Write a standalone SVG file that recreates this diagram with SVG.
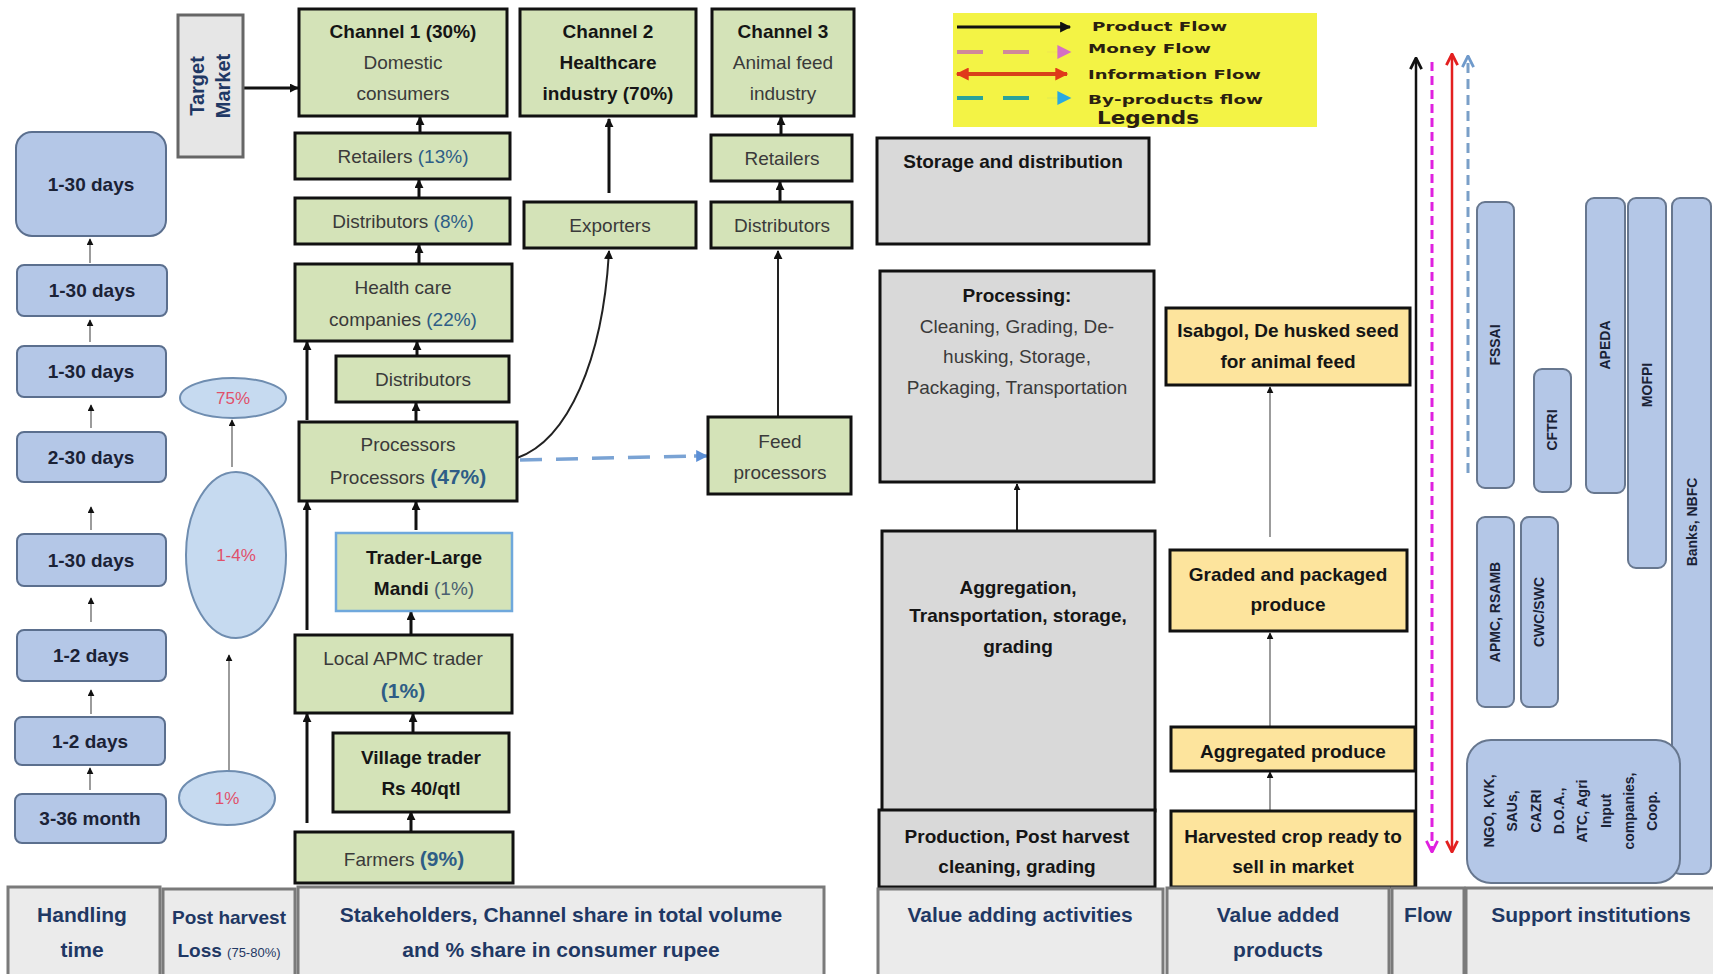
<svg xmlns="http://www.w3.org/2000/svg" width="1713" height="974" viewBox="0 0 1713 974">
<style>
text{font-family:"Liberation Sans",Arial,sans-serif;text-anchor:middle}
.t{font-size:19px;fill:#3a3a3a}
.b{font-weight:bold;fill:#151515}
.pc{fill:#2e5d86}
.g{fill:#d4e3b8;stroke:#111;stroke-width:3}
.gt{fill:#d4e3b8;stroke:#6fa8dc;stroke-width:2.5}
.gr{fill:#d9d9d9;stroke:#111;stroke-width:3}
.y{fill:#fde49d;stroke:#111;stroke-width:3}
.tb{fill:#b4c7e7;stroke:#5b6f8e;stroke-width:2}
.tt{font-size:19px;font-weight:bold;fill:#1b2236}
.el{fill:#c6daf0;stroke:#6f8db0;stroke-width:2}
.elt{font-size:17px;fill:#e0506a}
.hd{fill:#ebebeb;stroke:#7a7a7a;stroke-width:3}
.ht{font-size:21px;font-weight:bold;fill:#1f3864}
.si{fill:#b4c7e7;stroke:#67778f;stroke-width:2}
.sit{font-size:14px;font-weight:bold;fill:#1a2236}
.lg{font-family:"DejaVu Sans",sans-serif;font-size:13px;font-weight:bold;fill:#2a2010;text-anchor:start}
.c3{fill:none;stroke:#111;stroke-width:3}
.c2{fill:none;stroke:#222;stroke-width:2}
.c1{fill:none;stroke:#666;stroke-width:1.3}
</style>
<defs>
<marker id="ah" viewBox="0 0 10 10" refX="9" refY="5" markerWidth="9" markerHeight="9" markerUnits="userSpaceOnUse" orient="auto"><path d="M0,0 L10,5 L0,10 z" fill="#111"/></marker>
<marker id="ahs" viewBox="0 0 10 10" refX="9" refY="5" markerWidth="7" markerHeight="7" markerUnits="userSpaceOnUse" orient="auto"><path d="M0,0 L10,5 L0,10 z" fill="#111"/></marker>
<marker id="ahb" viewBox="0 0 10 10" refX="9" refY="5" markerWidth="12" markerHeight="12" markerUnits="userSpaceOnUse" orient="auto"><path d="M0,0 L10,5 L0,10 z" fill="#5b8fd6"/></marker>
<marker id="lk" viewBox="0 0 10 10" refX="9" refY="5" markerWidth="13" markerHeight="11" markerUnits="userSpaceOnUse" orient="auto"><path d="M0,0 L10,5 L0,10 z" fill="#111"/></marker>
<marker id="lp" viewBox="0 0 10 10" refX="9" refY="5" markerWidth="24" markerHeight="14" markerUnits="userSpaceOnUse" orient="auto"><path d="M0,0 L10,5 L0,10 z" fill="#d46fc4"/></marker>
<marker id="lr" viewBox="0 0 10 10" refX="9" refY="5" markerWidth="18" markerHeight="13" markerUnits="userSpaceOnUse" orient="auto-start-reverse"><path d="M0,0 L10,5 L0,10 z" fill="#e0381a"/></marker>
<marker id="lc" viewBox="0 0 10 10" refX="9" refY="5" markerWidth="24" markerHeight="14" markerUnits="userSpaceOnUse" orient="auto"><path d="M0,0 L10,5 L0,10 z" fill="#2aa8e0"/></marker>
<marker id="vk" viewBox="0 0 10 10" refX="9" refY="5" markerWidth="14" markerHeight="14" markerUnits="userSpaceOnUse" orient="auto"><path d="M1,1 L9,5 L1,9" fill="none" stroke="#111" stroke-width="2"/></marker>
<marker id="vm" viewBox="0 0 10 10" refX="9" refY="5" markerWidth="14" markerHeight="14" markerUnits="userSpaceOnUse" orient="auto"><path d="M1,1 L9,5 L1,9" fill="none" stroke="#e020e0" stroke-width="2"/></marker>
<marker id="vr" viewBox="0 0 10 10" refX="9" refY="5" markerWidth="14" markerHeight="14" markerUnits="userSpaceOnUse" orient="auto-start-reverse"><path d="M1,1 L9,5 L1,9" fill="none" stroke="#e32020" stroke-width="2"/></marker>
<marker id="vb" viewBox="0 0 10 10" refX="9" refY="5" markerWidth="14" markerHeight="14" markerUnits="userSpaceOnUse" orient="auto"><path d="M1,1 L9,5 L1,9" fill="none" stroke="#6f9acb" stroke-width="2"/></marker>
</defs>
<rect width="1713" height="974" fill="#ffffff"/>

<g id="legend">
<rect x="953" y="13" width="364" height="114" fill="#f3f345"/>
<line x1="957" y1="27" x2="1070" y2="27" stroke="#111" stroke-width="3" marker-end="url(#lk)"/>
<line x1="957" y1="52" x2="1047" y2="52" stroke="#d0889a" stroke-width="4" stroke-dasharray="26 20"/>
<line x1="1047" y1="52" x2="1070" y2="52" stroke="#d46fc4" stroke-width="0.1" marker-end="url(#lp)"/>
<line x1="957" y1="74" x2="1067" y2="74" stroke="#d8401a" stroke-width="4" marker-start="url(#lr)" marker-end="url(#lr)"/>
<line x1="957" y1="98" x2="1047" y2="98" stroke="#2aa39a" stroke-width="4" stroke-dasharray="26 20"/>
<line x1="1047" y1="98" x2="1070" y2="98" stroke="#2aa8e0" stroke-width="0.1" marker-end="url(#lc)"/>
<text class="lg" x="1092" y="31" textLength="135" lengthAdjust="spacingAndGlyphs">Product Flow</text>
<text class="lg" x="1088" y="53" textLength="123" lengthAdjust="spacingAndGlyphs">Money Flow</text>
<text class="lg" x="1088" y="79" textLength="173" lengthAdjust="spacingAndGlyphs">Information Flow</text>
<text class="lg" x="1088" y="104" textLength="175" lengthAdjust="spacingAndGlyphs">By-products flow</text>
<text class="lg" x="1097" y="124" style="font-size:17px" textLength="102" lengthAdjust="spacingAndGlyphs">Legends</text>
</g>

<g id="connectors">
<line class="c3" x1="244" y1="88" x2="298" y2="88" stroke="#444" marker-end="url(#ah)"/>
<line class="c3" x1="420" y1="133" x2="420" y2="117" marker-end="url(#ah)"/>
<line class="c3" x1="419" y1="198" x2="419" y2="180" marker-end="url(#ah)"/>
<line class="c3" x1="419" y1="264" x2="419" y2="245" marker-end="url(#ah)"/>
<line class="c3" x1="417" y1="356" x2="417" y2="342" marker-end="url(#ah)"/>
<line class="c3" x1="416" y1="422" x2="416" y2="403" marker-end="url(#ah)"/>
<line class="c3" x1="416" y1="530" x2="416" y2="502" marker-end="url(#ah)"/>
<line class="c3" x1="411" y1="634" x2="411" y2="612" marker-end="url(#ah)"/>
<line class="c3" x1="413" y1="733" x2="413" y2="714" marker-end="url(#ah)"/>
<line class="c3" x1="411" y1="832" x2="411" y2="812" marker-end="url(#ah)"/>
<line class="c3" x1="307" y1="823" x2="307" y2="714" marker-end="url(#ah)"/>
<line class="c3" x1="307" y1="630" x2="307" y2="502" marker-end="url(#ah)"/>
<line class="c3" x1="307" y1="420" x2="307" y2="342" marker-end="url(#ah)"/>
<line class="c3" x1="609" y1="193" x2="609" y2="119" marker-end="url(#ah)"/>
<line class="c3" x1="781" y1="135" x2="781" y2="117" marker-end="url(#ah)"/>
<line class="c3" x1="780" y1="202" x2="780" y2="182" marker-end="url(#ah)"/>
<line class="c2" x1="778" y1="417" x2="778" y2="251" stroke-width="2.5" marker-end="url(#ah)"/>
<path class="c2" d="M517,458 C568,440 603,360 609,251" stroke-width="2.5" marker-end="url(#ah)"/>
<line x1="520" y1="460" x2="694" y2="456" stroke="#7aa3d4" stroke-width="3.5" stroke-dasharray="22 14"/>
<line x1="694" y1="456" x2="707" y2="456" stroke="#7aa3d4" stroke-width="3.5" marker-end="url(#ahb)"/>
<line class="c1" x1="90" y1="263" x2="90" y2="239" marker-end="url(#ahs)"/>
<line class="c1" x1="90" y1="342" x2="90" y2="320" marker-end="url(#ahs)"/>
<line class="c1" x1="91" y1="428" x2="91" y2="405" marker-end="url(#ahs)"/>
<line class="c1" x1="91" y1="530" x2="91" y2="507" marker-end="url(#ahs)"/>
<line class="c1" x1="91" y1="622" x2="91" y2="598" marker-end="url(#ahs)"/>
<line class="c1" x1="91" y1="714" x2="91" y2="690" marker-end="url(#ahs)"/>
<line class="c1" x1="90" y1="790" x2="90" y2="768" marker-end="url(#ahs)"/>
<line class="c1" x1="232" y1="467" x2="232" y2="420" marker-end="url(#ahs)"/>
<line class="c1" x1="229" y1="771" x2="229" y2="655" marker-end="url(#ahs)"/>
<line class="c2" x1="1017" y1="531" x2="1017" y2="484" marker-end="url(#ahs)"/>
<line class="c2" x1="1017" y1="810" x2="1017" y2="794" marker-end="url(#ahs)"/>
<line class="c1" x1="1270" y1="811" x2="1270" y2="772" stroke="#444" stroke-width="1.6" marker-end="url(#ahs)"/>
<line class="c1" x1="1270" y1="727" x2="1270" y2="633" stroke="#444" stroke-width="1.6" marker-end="url(#ahs)"/>
<line class="c1" x1="1270" y1="537" x2="1270" y2="387" stroke="#444" stroke-width="1.6" marker-end="url(#ahs)"/>
<line x1="1416" y1="887" x2="1416" y2="58" stroke="#111" stroke-width="2.5" marker-end="url(#vk)"/>
<line x1="1432" y1="62" x2="1432" y2="852" stroke="#e020e0" stroke-width="3" stroke-dasharray="9 5" marker-end="url(#vm)"/>
<line x1="1452" y1="54" x2="1452" y2="852" stroke="#e32020" stroke-width="2.5" marker-start="url(#vr)" marker-end="url(#vr)"/>
<line x1="1468" y1="473" x2="1468" y2="56" stroke="#7a9fc8" stroke-width="3" stroke-dasharray="10 6" marker-end="url(#vb)"/>
</g>

<g id="time-col">
<g id="t1"><rect class="tb" x="16" y="132" width="150" height="104" rx="16"/><text class="tt" x="91" y="191">1-30 days</text></g>
<g id="t2"><rect class="tb" x="17" y="265" width="150" height="51" rx="7"/><text class="tt" x="92" y="297">1-30 days</text></g>
<g id="t3"><rect class="tb" x="17" y="346" width="149" height="51" rx="7"/><text class="tt" x="91" y="378">1-30 days</text></g>
<g id="t4"><rect class="tb" x="17" y="432" width="149" height="50" rx="7"/><text class="tt" x="91" y="464">2-30 days</text></g>
<g id="t5"><rect class="tb" x="17" y="534" width="149" height="52" rx="7"/><text class="tt" x="91" y="567">1-30 days</text></g>
<g id="t6"><rect class="tb" x="17" y="630" width="149" height="51" rx="7"/><text class="tt" x="91" y="662">1-2 days</text></g>
<g id="t7"><rect class="tb" x="15" y="717" width="150" height="48" rx="7"/><text class="tt" x="90" y="748">1-2 days</text></g>
<g id="t8"><rect class="tb" x="15" y="794" width="151" height="49" rx="7"/><text class="tt" x="90" y="825">3-36 month</text></g>
</g>

<g id="loss-col">
<g id="l75"><ellipse class="el" cx="233" cy="398" rx="53" ry="20"/><text class="elt" x="233" y="404">75%</text></g>
<g id="l14"><ellipse class="el" cx="236" cy="555" rx="50" ry="83"/><text class="elt" x="236" y="561">1-4%</text></g>
<g id="l1"><ellipse class="el" cx="227" cy="798" rx="48" ry="27"/><text class="elt" x="227" y="804">1%</text></g>
</g>

<g id="target-market"><rect x="178" y="15" width="65" height="142" fill="#e6e6e6" stroke="#666" stroke-width="3"/>
<text class="ht" style="font-size:20px" transform="translate(204,86) rotate(-90)">Target</text>
<text class="ht" style="font-size:20px" transform="translate(230,86) rotate(-90)">Market</text></g>

<g id="ch1"><rect class="g" x="299" y="9" width="208" height="107"/><text class="t b" x="403" y="38">Channel 1 (30%)</text><text class="t" x="403" y="69">Domestic</text><text class="t" x="403" y="100">consumers</text></g>
<g id="ch2"><rect class="g" x="520" y="9" width="176" height="107"/><text class="t b" x="608" y="38">Channel 2</text><text class="t b" x="608" y="69">Healthcare</text><text class="t b" x="608" y="100">industry (70%)</text></g>
<g id="ch3"><rect class="g" x="712" y="9" width="142" height="107"/><text class="t b" x="783" y="38">Channel 3</text><text class="t" x="783" y="69">Animal feed</text><text class="t" x="783" y="100">industry</text></g>
<g id="ret13"><rect class="g" x="295" y="133" width="215" height="46"/><text class="t" x="403" y="163">Retailers <tspan class="pc">(13%)</tspan></text></g>
<g id="dist8"><rect class="g" x="295" y="198" width="215" height="46"/><text class="t" x="403" y="228">Distributors <tspan class="pc">(8%)</tspan></text></g>
<g id="exporters"><rect class="g" x="524" y="202" width="172" height="46"/><text class="t" x="610" y="232">Exporters</text></g>
<g id="ret3"><rect class="g" x="711" y="135" width="141" height="46"/><text class="t" x="782" y="165">Retailers</text></g>
<g id="dist3"><rect class="g" x="711" y="202" width="141" height="46"/><text class="t" x="782" y="232">Distributors</text></g>
<g id="hcc"><rect class="g" x="295" y="264" width="217" height="77"/><text class="t" x="403" y="294">Health care</text><text class="t" x="403" y="326">companies <tspan class="pc">(22%)</tspan></text></g>
<g id="dist"><rect class="g" x="336" y="356" width="173" height="46"/><text class="t" x="423" y="386">Distributors</text></g>
<g id="proc"><rect class="g" x="299" y="422" width="218" height="79"/><text class="t" x="408" y="451">Processors</text><text class="t" x="408" y="484">Processors <tspan class="pc" style="font-weight:bold;font-size:21px">(47%)</tspan></text></g>
<g id="feed"><rect class="g" x="708" y="417" width="143" height="77"/><text class="t" x="780" y="448">Feed</text><text class="t" x="780" y="479">processors</text></g>
<g id="trader"><rect class="gt" x="336" y="533" width="176" height="78"/><text class="t b" x="424" y="564">Trader-Large</text><text class="t b" x="424" y="595">Mandi <tspan style="font-weight:normal;fill:#4a6070">(1%)</tspan></text></g>
<g id="apmc"><rect class="g" x="295" y="635" width="217" height="78"/><text class="t" x="403" y="665">Local APMC trader</text><text class="t pc" style="font-weight:bold;font-size:21px" x="403" y="698">(1%)</text></g>
<g id="village"><rect class="g" x="333" y="733" width="176" height="79"/><text class="t b" x="421" y="764">Village trader</text><text class="t b" x="421" y="795">Rs 40/qtl</text></g>
<g id="farmers"><rect class="g" x="295" y="832" width="218" height="51"/><text class="t" x="404" y="866">Farmers <tspan class="pc" style="font-weight:bold;font-size:21px">(9%)</tspan></text></g>

<g id="storage"><rect class="gr" x="877" y="138" width="272" height="106"/><text class="t b" x="1013" y="168">Storage and distribution</text></g>
<g id="processing"><rect class="gr" x="880" y="271" width="274" height="211"/><text class="t b" x="1017" y="302">Processing:</text><text class="t" x="1017" y="333">Cleaning, Grading, De-</text><text class="t" x="1017" y="363">husking, Storage,</text><text class="t" x="1017" y="394">Packaging, Transportation</text></g>
<g id="aggregation"><rect class="gr" x="882" y="531" width="273" height="280"/><text class="t b" x="1018" y="594">Aggregation,</text><text class="t b" x="1018" y="622">Transportation, storage,</text><text class="t b" x="1018" y="653">grading</text></g>
<g id="production"><rect class="gr" x="879" y="810" width="276" height="77"/><text class="t b" x="1017" y="843">Production, Post harvest</text><text class="t b" x="1017" y="873">cleaning, grading</text></g>

<g id="isabgol"><rect class="y" x="1166" y="308" width="244" height="77"/><text class="t b" x="1288" y="337">Isabgol, De husked seed</text><text class="t b" x="1288" y="368">for animal feed</text></g>
<g id="graded"><rect class="y" x="1170" y="550" width="237" height="81"/><text class="t b" x="1288" y="581">Graded and packaged</text><text class="t b" x="1288" y="611">produce</text></g>
<g id="aggregated"><rect class="y" x="1171" y="727" width="244" height="44"/><text class="t b" x="1293" y="758">Aggregated produce</text></g>
<g id="harvested"><rect class="y" x="1171" y="811" width="244" height="76"/><text class="t b" x="1293" y="843">Harvested crop ready to</text><text class="t b" x="1293" y="873">sell in market</text></g>

<g id="support">
<g id="fssai"><rect class="si" x="1477" y="202" width="37" height="286" rx="8"/><text class="sit" transform="translate(1500,345) rotate(-90)">FSSAI</text></g>
<g id="cftri"><rect class="si" x="1534" y="369" width="37" height="123" rx="8"/><text class="sit" transform="translate(1557,430) rotate(-90)">CFTRI</text></g>
<g id="apeda"><rect class="si" x="1586" y="198" width="39" height="295" rx="8"/><text class="sit" transform="translate(1610,345) rotate(-90)">APEDA</text></g>
<g id="mofpi"><rect class="si" x="1628" y="198" width="38" height="370" rx="8"/><text class="sit" transform="translate(1652,385) rotate(-90)">MOFPI</text></g>
<g id="banks"><rect class="si" x="1672" y="198" width="39" height="676" rx="8"/><text class="sit" transform="translate(1697,522) rotate(-90)">Banks, NBFC</text></g>
<g id="apmc-rsamb"><rect class="si" x="1477" y="517" width="37" height="190" rx="8"/><text class="sit" transform="translate(1500,612) rotate(-90)">APMC, RSAMB</text></g>
<g id="cwc"><rect class="si" x="1521" y="517" width="37" height="190" rx="8"/><text class="sit" transform="translate(1544,612) rotate(-90)">CWC/SWC</text></g>
<g id="ngo"><rect class="si" x="1467" y="740" width="213" height="143" rx="24"/><text class="sit" transform="translate(1494,811) rotate(-90)"><tspan x="0" dy="0">NGO, KVK,</tspan><tspan x="0" dy="23.3">SAUs,</tspan><tspan x="0" dy="23.3">CAZRI</tspan><tspan x="0" dy="23.3">D.O.A.,</tspan><tspan x="0" dy="23.3">ATC, Agri</tspan><tspan x="0" dy="23.3">Input</tspan><tspan x="0" dy="23.3">companies,</tspan><tspan x="0" dy="23.3">Coop.</tspan></text></g>
</g>

<g id="headers">
<g id="h1"><rect class="hd" x="8" y="887" width="152" height="92"/><text class="ht" x="82" y="922">Handling</text><text class="ht" x="82" y="957">time</text></g>
<g id="h2"><rect class="hd" x="163" y="889" width="132" height="90"/><text class="ht" style="font-size:19px" x="229" y="924">Post harvest</text><text class="ht" style="font-size:19px" x="229" y="957">Loss <tspan style="font-size:13px;font-weight:normal">(75-80%)</tspan></text></g>
<g id="h3"><rect class="hd" x="298" y="887" width="526" height="92"/><text class="ht" x="561" y="922">Stakeholders, Channel share in total volume</text><text class="ht" x="561" y="957">and % share in consumer rupee</text></g>
<g id="h4"><rect class="hd" x="878" y="889" width="285" height="90"/><text class="ht" x="1020" y="922">Value adding activities</text></g>
<g id="h5"><rect class="hd" x="1167" y="888" width="222" height="91"/><text class="ht" x="1278" y="922">Value added</text><text class="ht" x="1278" y="957">products</text></g>
<g id="h6"><rect class="hd" x="1392" y="888" width="72" height="91"/><text class="ht" x="1428" y="922">Flow</text></g>
<g id="h7"><rect class="hd" x="1466" y="888" width="250" height="91"/><text class="ht" x="1591" y="922">Support institutions</text></g>
</g>
</svg>
